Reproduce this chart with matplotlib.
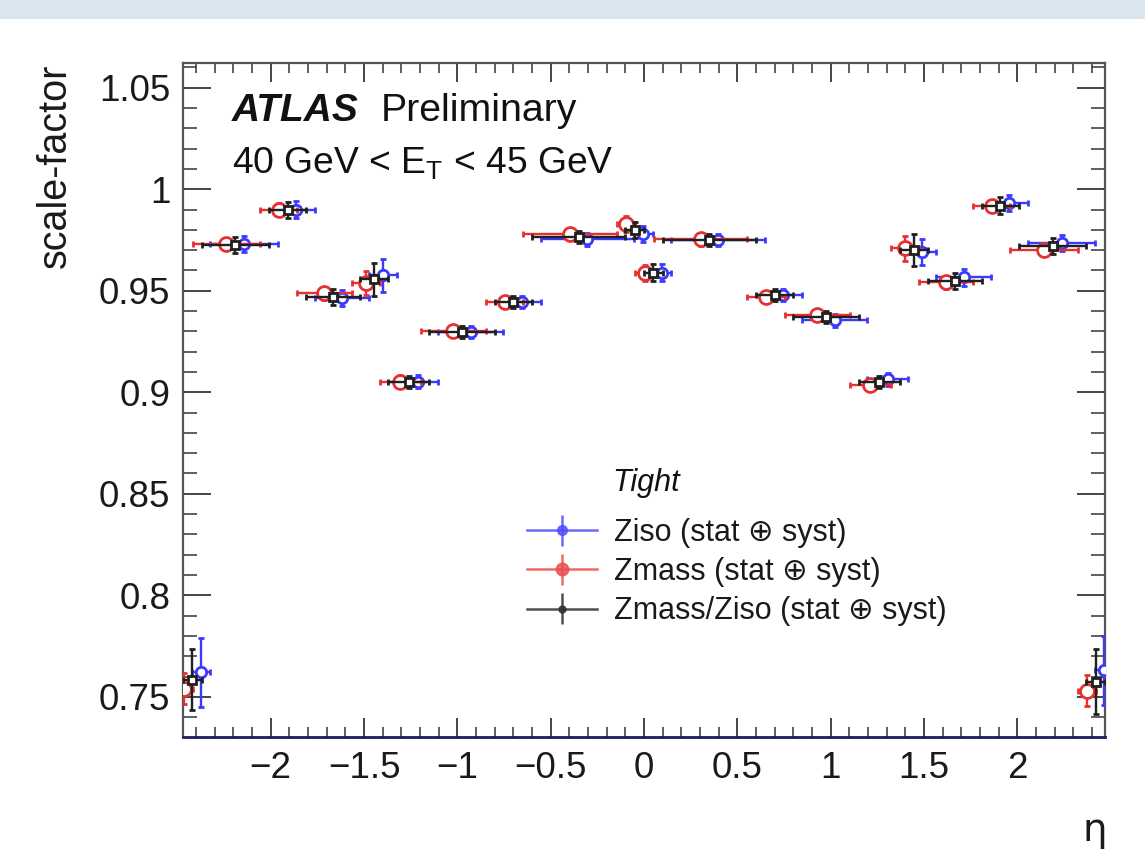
import numpy as np
import matplotlib
matplotlib.use("Agg")
import matplotlib.pyplot as plt
from matplotlib.patches import Rectangle
from matplotlib.ticker import MultipleLocator, FixedLocator

plt.rcParams['font.family'] = ['Liberation Sans', 'DejaVu Sans']
plt.rcParams['mathtext.fontset'] = 'custom'
plt.rcParams['mathtext.rm'] = 'Liberation Sans'
plt.rcParams['mathtext.it'] = 'Liberation Sans:italic'

# ---- data ----
eta_edges = [-2.47, -2.37, -2.01, -1.81, -1.52, -1.37, -1.15, -0.8, -0.6, -0.1, 0.0,
             0.1, 0.6, 0.8, 1.15, 1.37, 1.52, 1.81, 2.01, 2.37, 2.47]

sf_ziso = [0.762, 0.9730, 0.9900, 0.9463, 0.9576, 0.9053, 0.9295, 0.9443, 0.9753, 0.9780,
           0.9590, 0.9749, 0.9478, 0.9354, 0.9063, 0.9690, 0.9566, 0.9931, 0.9734, 0.763]
err_ziso = [0.017, 0.004, 0.004, 0.004, 0.008, 0.003, 0.003, 0.003, 0.003, 0.004,
            0.004, 0.003, 0.003, 0.003, 0.003, 0.0065, 0.004, 0.004, 0.004, 0.017]

sf_zmass = [0.754, 0.9730, 0.9900, 0.9487, 0.9537, 0.9053, 0.9300, 0.9443, 0.9778, 0.9830,
            0.9586, 0.9753, 0.9470, 0.9379, 0.9034, 0.9709, 0.9541, 0.9916, 0.9700, 0.753]
err_zmass = [0.0075, 0.003, 0.003, 0.003, 0.006, 0.003, 0.003, 0.003, 0.003, 0.004,
             0.004, 0.003, 0.003, 0.003, 0.003, 0.006, 0.003, 0.003, 0.003, 0.0076]

sf_comb = [0.7585, 0.9725, 0.9897, 0.9470, 0.9556, 0.9049, 0.9298, 0.9443, 0.9763, 0.9800,
           0.9590, 0.9749, 0.9478, 0.9369, 0.9049, 0.9700, 0.9550, 0.9920, 0.9720, 0.7575]
err_comb = [0.015, 0.004, 0.004, 0.004, 0.008, 0.003, 0.003, 0.003, 0.003, 0.004,
            0.004, 0.003, 0.003, 0.003, 0.003, 0.008, 0.004, 0.004, 0.004, 0.016]

x_ticks = [-2, -1.5, -1, -0.5, 0, 0.5, 1, 1.5, 2]
x_ticklabels = ["\u22122", "\u22121.5", "\u22121", "\u22120.5", "0", "0.5", "1", "1.5", "2"]
y_ticks = [0.75, 0.8, 0.85, 0.9, 0.95, 1.0, 1.05]
y_ticklabels = ["0.75", "0.8", "0.85", "0.9", "0.95", "1", "1.05"]

labels = ["Ziso (stat \u2295 syst)", "Zmass (stat \u2295 syst)", "Zmass/Ziso (stat \u2295 syst)"]

# ---- derived ----
edges = np.array(eta_edges)
centers = 0.5 * (edges[1:] + edges[:-1])
halfw = 0.5 * (edges[1:] - edges[:-1])

W, H = 1145, 852
fig = plt.figure(figsize=(W / 100, H / 100), dpi=100)
fig.patch.set_facecolor('white')

# top banner
fig.patches.append(Rectangle((0, 1 - 19 / H), 1, 19 / H, transform=fig.transFigure,
                             facecolor='#dce6f1', edgecolor='none', zorder=0))

ax = fig.add_axes([183 / W, 1 - 737 / H, (1105 - 183) / W, (737 - 63) / H])

blue = '#3a3aff'
red = '#e83030'
black = '#202020'
off = 0.047

common = dict(linestyle='none', capsize=2.5, elinewidth=1.7, capthick=1.4, markeredgewidth=2.0)
eb_b = ax.errorbar(centers + off, sf_ziso, xerr=halfw, yerr=err_ziso, fmt='o', color=blue,
                   mfc='white', mec=blue, ms=7.5, zorder=3, **common)
eb_r = ax.errorbar(centers - off, sf_zmass, xerr=halfw, yerr=err_zmass, fmt='o', color=red,
                   mfc='white', mec=red, ms=10, zorder=4, **common)
eb_k = ax.errorbar(centers, sf_comb, xerr=halfw, yerr=err_comb, fmt='s', color=black,
                   mfc='white', mec=black, ms=5.5, zorder=5, **common)

ax.set_xlim(-2.47, 2.47)
ax.set_ylim(0.7302, 1.0622)

ax.xaxis.set_major_locator(FixedLocator(x_ticks))
ax.set_xticklabels(x_ticklabels)
ax.xaxis.set_minor_locator(MultipleLocator(0.1))
ax.yaxis.set_major_locator(FixedLocator(y_ticks))
ax.set_yticklabels(y_ticklabels)
ax.yaxis.set_minor_locator(MultipleLocator(0.01))

ax.tick_params(axis='both', which='both', direction='in', top=True, right=True,
               color='#444444', labelsize=26.5, labelcolor='#1a1a1a')
ax.tick_params(axis='x', which='major', length=14, width=1.4, pad=10)
ax.tick_params(axis='x', which='minor', length=7, width=1.2)
ax.tick_params(axis='y', which='major', length=20, width=1.4, pad=9)
ax.tick_params(axis='y', which='minor', length=10, width=1.2)

for s in ['left', 'top', 'right']:
    ax.spines[s].set_color('#555555')
    ax.spines[s].set_linewidth(1.6)
ax.spines['bottom'].set_color('#1c1c5c')
ax.spines['bottom'].set_linewidth(2.0)

# labels
fig.text(55 / W, 1 - 64 / H, 'scale-factor', rotation=90, ha='center', va='top',
         fontsize=28.5, color='#1a1a1a')
fig.text(1095 / W, 1 - 830 / H, '\u03b7', ha='center', va='center', fontsize=28,
         color='#1a1a1a', family=['DejaVu Sans'])

fig.text(232 / W, 1 - 111 / H, 'ATLAS', ha='left', va='center', fontsize=28,
         fontweight='bold', fontstyle='italic', color='#111111')
fig.text(381 / W, 1 - 111 / H, 'Preliminary', ha='left', va='center', fontsize=28.3,
         color='#111111')
fig.text(232 / W, 1 - 163 / H, r'40 GeV < E$_{\mathregular{T}}$ < 45 GeV', ha='left',
         va='center', fontsize=26.8, color='#111111')

fig.text(612 / W, 1 - 483 / H, 'Tight', ha='left', va='center', fontsize=22,
         fontstyle='italic', color='#111111')

# legend proxies (filled markers, line through, vertical error bar)
proxy = dict(fmt='o-', lw=1.8, elinewidth=1.8, capsize=0, alpha=0.85)
pb = ax.errorbar([np.nan], [np.nan], yerr=[0.01], color='#5050ff', ms=7, **proxy)
pr = ax.errorbar([np.nan], [np.nan], yerr=[0.01], color='#e85050', ms=9, **proxy)
pk = ax.errorbar([np.nan], [np.nan], yerr=[0.01], color='#303030', ms=5, **proxy)
leg = fig.legend([pb, pr, pk], labels, loc='upper left',
                 bbox_to_anchor=(527 / W, 1 - 518 / H), frameon=False, fontsize=22,
                 handlelength=2.3, handletextpad=0.55, labelspacing=0.3,
                 borderpad=0, borderaxespad=0)
for t in leg.get_texts():
    t.set_color('#1a1a1a')

fig.savefig('out.png', dpi=100)
